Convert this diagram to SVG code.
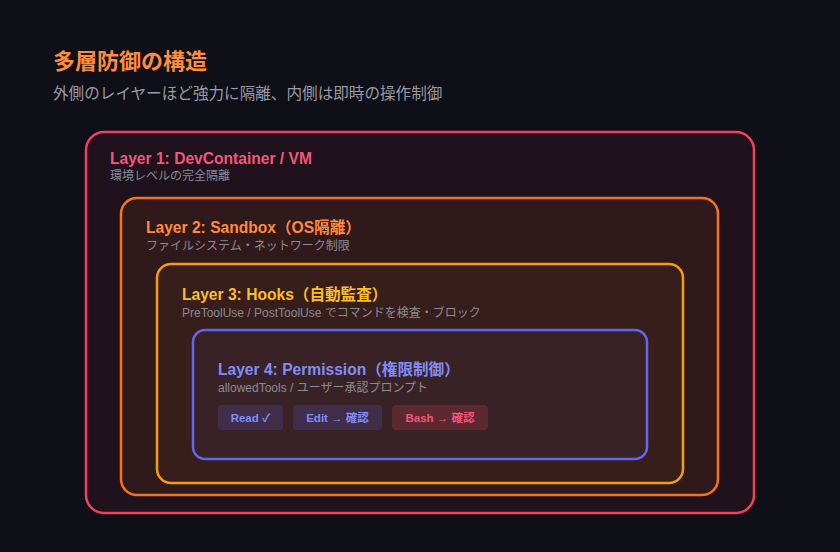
<svg xmlns="http://www.w3.org/2000/svg" width="840" height="552" viewBox="0 0 840 552">
<style>
text{font-family:"Liberation Sans","Noto Sans CJK JP",sans-serif}
.t{font-size:15.6px;font-weight:700}
.s{font-size:12px;fill:#8a8a96}
.p{font-size:11.5px;font-weight:700}
</style>
<rect width="840" height="552" fill="#0e0f17"/>
<text x="53" y="69" font-size="22" font-weight="700" fill="#ff8c3a">多層防御の構造</text>
<text x="53" y="99" font-size="15.6" fill="#9a9aa6">外側のレイヤーほど強力に隔離、内側は即時の操作制御</text>
<g id="layer1">
<rect x="86" y="132" width="668" height="381" rx="18" fill="#f43f5e" fill-opacity="0.08" stroke="#f43f5e" stroke-width="2.5"/>
<text class="t" x="110" y="164" fill="#f0577a">Layer 1: DevContainer / VM</text>
<text class="s" x="110" y="180">環境レベルの完全隔離</text>
</g>
<g id="layer2">
<rect x="121" y="198" width="597" height="297" rx="16" fill="#f97316" fill-opacity="0.08" stroke="#f97316" stroke-width="2.5"/>
<text class="t" x="146" y="233" fill="#ff8a3d">Layer 2: Sandbox（OS隔離）</text>
<text class="s" x="146" y="250">ファイルシステム・ネットワーク制限</text>
</g>
<g id="layer3">
<rect x="157" y="264" width="526" height="219" rx="14" fill="#f59e0b" fill-opacity="0.035" stroke="#f59e0b" stroke-width="2.5"/>
<text class="t" x="182" y="300" fill="#fbbf24">Layer 3: Hooks（自動監査）</text>
<text class="s" x="182" y="317">PreToolUse / PostToolUse でコマンドを検査・ブロック</text>
</g>
<g id="layer4">
<rect x="193" y="330" width="454" height="129" rx="12" fill="#6366f1" fill-opacity="0.06" stroke="#6366f1" stroke-width="2.5"/>
<text class="t" x="218" y="375" fill="#818cf8">Layer 4: Permission（権限制御）</text>
<text class="s" x="218" y="392">allowedTools / ユーザー承認プロンプト</text>
<g id="pill-read">
<rect x="218" y="405" width="65" height="25" rx="4" fill="#6366f1" fill-opacity="0.18"/>
<text class="p" x="250.5" y="422" text-anchor="middle" fill="#818cf8">Read ✓</text>
</g>
<g id="pill-edit">
<rect x="293" y="405" width="89" height="25" rx="4" fill="#6366f1" fill-opacity="0.18"/>
<text class="p" x="337.5" y="422" text-anchor="middle" fill="#818cf8">Edit → 確認</text>
</g>
<g id="pill-bash">
<rect x="392" y="405" width="96" height="25" rx="4" fill="#f43f5e" fill-opacity="0.2"/>
<text class="p" x="440" y="422" text-anchor="middle" fill="#f0577a">Bash → 確認</text>
</g>
</g>
<g id="connectors"/>
</svg>
